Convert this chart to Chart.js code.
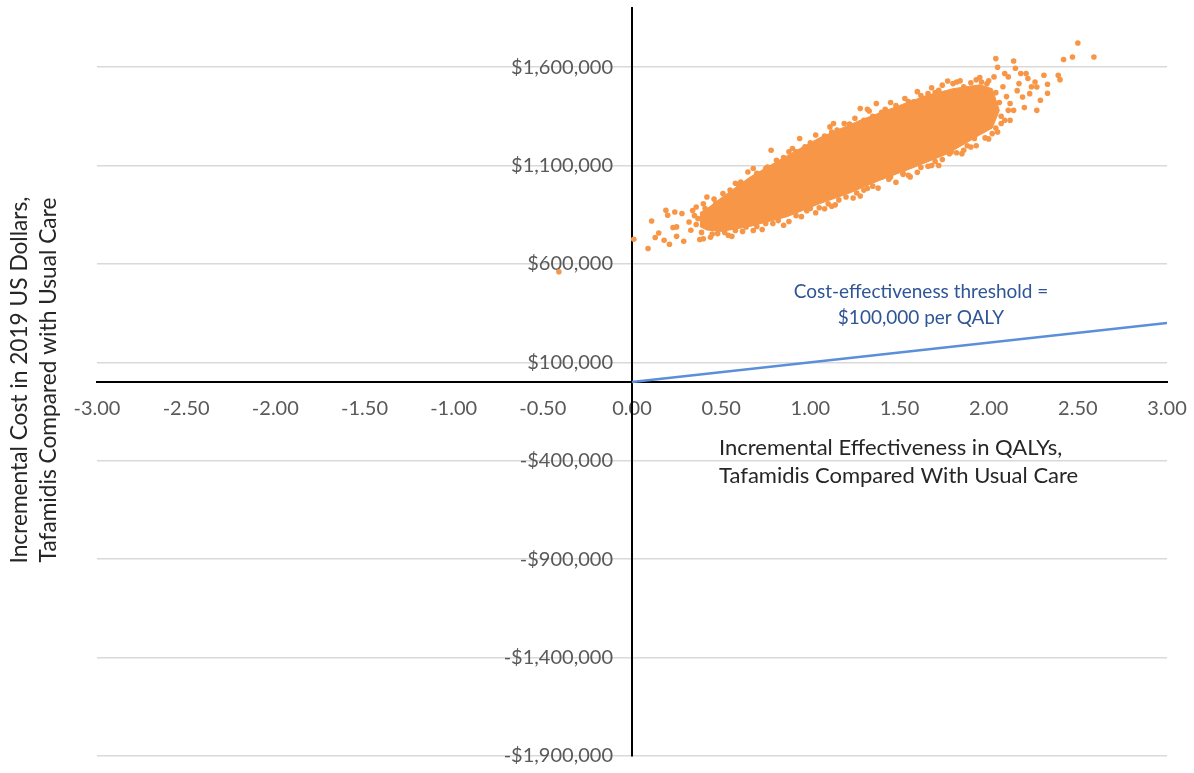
<!DOCTYPE html>
<html>
<head>
<meta charset="utf-8">
<script src="https://cdn.jsdelivr.net/npm/chart.js@4.4.1/dist/chart.umd.min.js"></script>
<style>
  html, body { margin: 0; padding: 0; background: #ffffff; }
  canvas { display: block; }
</style>
</head>
<body>
<canvas id="plane" width="1194" height="773"></canvas>
<script>
// ---- Cost-effectiveness plane: tafamidis vs usual care (PSA iterations) ----

// Axis ticks
const xTickValues = [-3, -2.5, -2, -1.5, -1, -0.5, 0, 0.5, 1, 1.5, 2, 2.5, 3];
const yTickValues = [-1900000, -1400000, -900000, -400000, 100000, 600000, 1100000, 1600000];

// Willingness-to-pay line: $100,000 per QALY gained [QALYs, cost]
const thresholdLine = [[0, 0], [3, 300000]];

// Outline of the densest part of the PSA cloud, where iterations overlap solidly
const denseUpper = [
  [0.38, 860000], [0.42, 880000], [0.50, 935000], [0.66, 1040000], [0.87, 1150000],
  [1.05, 1240000], [1.28, 1330000], [1.50, 1405000], [1.65, 1455000], [1.80, 1490000],
  [1.95, 1510000], [2.02, 1490000], [2.06, 1380000]
];
const denseLower = [
  [0.38, 790000], [0.42, 772000], [0.50, 765000], [0.66, 790000], [0.87, 840000],
  [1.05, 905000], [1.22, 960000], [1.39, 1025000], [1.58, 1090000], [1.77, 1160000],
  [1.95, 1255000], [2.02, 1290000], [2.06, 1380000]
];

// Individual PSA iterations around and outside the dense core [QALYs, cost]
const psaIterations = [
  [-0.41, 560000],
  [0.01, 725000], [0.09, 678000], [0.11, 818000], [0.13, 734000], [0.15, 757000],
  [0.18, 720000], [0.19, 872000], [0.21, 700000], [0.20, 847000], [0.23, 785000],
  [0.24, 864000], [0.25, 788000], [0.25, 740000], [0.29, 715000], [0.28, 856000],
  [0.32, 813000], [0.33, 771000], [0.34, 871000], [0.36, 889000], [0.37, 830000],
  [0.38, 724000], [0.40, 728000], [0.41, 881000], [0.42, 940000], [0.47, 909000],
  [0.48, 754000], [0.51, 957000], [0.56, 740000], [0.61, 1016000], [0.65, 1067000],
  [0.76, 1092000], [0.78, 1177000], [0.81, 1126000], [0.90, 1186000], [0.94, 1237000],
  [1.11, 1296000], [1.13, 1313000], [1.19, 1313000], [1.28, 1389000], [1.32, 1386000],
  [1.33, 1377000], [1.37, 1415000], [1.58, 1423000], [1.62, 1431000], [1.66, 1465000],
  [1.74, 1508000], [1.77, 1529000], [1.80, 1516000], [1.82, 1524000], [1.95, 1547000],
  [1.96, 1524000], [2.03, 1550000], [2.04, 1643000], [2.05, 1599000], [2.09, 1567000],
  [2.11, 1550000], [2.14, 1631000], [2.15, 1594000], [2.17, 1516000], [2.18, 1567000],
  [2.21, 1567000], [2.22, 1542000], [2.26, 1524000], [2.27, 1499000], [2.23, 1465000],
  [2.19, 1448000], [2.20, 1394000], [2.14, 1380000], [2.12, 1330000], [2.07, 1313000],
  [2.02, 1262000], [1.92, 1237000], [1.90, 1194000], [1.86, 1177000], [1.79, 1169000],
  [1.78, 1160000], [1.66, 1096000], [1.56, 1042000], [1.52, 1055000], [1.45, 1042000],
  [1.40, 1042000], [2.27, 1380000], [2.29, 1431000], [2.31, 1558000], [2.33, 1513000],
  [2.33, 1467000], [2.39, 1558000], [2.40, 1536000], [2.42, 1638000], [2.47, 1651000],
  [2.50, 1722000], [2.59, 1651000],
  [0.64, 788000], [0.79, 805000], [0.85, 796000], [0.96, 889000], [1.00, 881000],
  [1.12, 893000], [1.20, 940000], [1.32, 983000],
  // upper fringe of the core
  [0.55, 975000], [0.60, 1000000], [0.70, 1060000], [0.75, 1085000], [0.85, 1140000],
  [0.92, 1170000], [1.00, 1215000], [1.08, 1250000], [1.15, 1280000], [1.22, 1310000],
  [1.35, 1350000], [1.42, 1385000], [1.48, 1405000], [1.55, 1425000], [1.62, 1455000],
  [1.70, 1470000], [1.86, 1500000], [1.90, 1520000], [1.99, 1515000],
  [0.46, 930000], [0.58, 1010000], [0.68, 1085000], [0.72, 1050000], [0.88, 1170000],
  [0.97, 1195000], [1.03, 1255000], [1.12, 1270000], [1.25, 1340000], [1.30, 1330000],
  [1.40, 1370000], [1.45, 1420000], [1.53, 1440000], [1.60, 1475000], [1.68, 1495000],
  [1.72, 1482000], [1.84, 1530000], [1.93, 1535000], [2.00, 1530000], [2.08, 1500000],
  [2.10, 1450000], [2.12, 1415000], [2.16, 1480000], [2.24, 1500000],
  // lower fringe of the core
  [0.45, 752000], [0.52, 760000], [0.58, 770000], [0.70, 790000], [0.75, 805000],
  [0.82, 820000], [0.92, 845000], [0.98, 870000], [1.05, 885000], [1.10, 905000],
  [1.16, 925000], [1.26, 960000], [1.30, 975000], [1.35, 995000], [1.44, 1030000],
  [1.52, 1060000], [1.62, 1090000], [1.70, 1120000], [1.74, 1130000], [1.82, 1165000],
  [1.88, 1200000], [1.98, 1240000], [2.04, 1290000], [2.07, 1350000], [2.06, 1420000],
  [2.04, 1470000],
  [0.44, 735000], [0.54, 745000], [0.62, 765000], [0.68, 770000], [0.73, 775000],
  [0.88, 815000], [0.95, 840000], [1.03, 860000], [1.08, 880000], [1.14, 900000],
  [1.24, 935000], [1.28, 945000], [1.38, 985000], [1.48, 1015000], [1.55, 1050000],
  [1.60, 1065000], [1.68, 1100000], [1.72, 1100000], [1.85, 1160000], [1.93, 1200000],
  [2.00, 1235000], [2.05, 1270000], [2.09, 1330000], [2.11, 1380000],
  // blunt left end of the core
  [0.36, 800000], [0.35, 845000], [0.39, 760000], [0.40, 905000]
];

// Text
const xTitleLines = ['Incremental Effectiveness in QALYs,', 'Tafamidis Compared With Usual Care'];
const yTitleLines = ['Incremental Cost in 2019 US Dollars,', 'Tafamidis Compared with Usual Care'];
const thresholdLabel = ['Cost-effectiveness threshold =', '$100,000 per QALY'];

const ORANGE = '#F79646';
const toXY = pairs => pairs.map(([x, y]) => ({ x, y }));
const tickFont = { family: 'Lato', size: 20 };
const tickColor = '#595959';

function dollars(v) {
  const s = '$' + Math.abs(v).toLocaleString('en-US');
  return v < 0 ? '-' + s : s;
}

// Cost tick labels sit just left of the vertical axis (which crosses at 0 QALYs)
const costLabels = {
  id: 'costLabels',
  beforeDatasetsDraw(chart) {
    const ctx = chart.ctx;
    const axisX = chart.scales.x.getPixelForValue(0);
    const ys = chart.scales.y;
    ctx.save();
    ctx.font = '20px Lato';
    ctx.fillStyle = tickColor;
    ctx.textAlign = 'right';
    ctx.textBaseline = 'middle';
    yTickValues.forEach(v => ctx.fillText(dollars(v), axisX - 19, ys.getPixelForValue(v)));
    ctx.restore();
  }
};

const annotations = {
  id: 'planeText',
  afterDraw(chart) {
    const ctx = chart.ctx;
    ctx.save();
    ctx.textBaseline = 'alphabetic';

    // x-axis title, left aligned under the positive quadrant
    ctx.fillStyle = '#262626';
    ctx.font = '22px Lato';
    ctx.textAlign = 'left';
    xTitleLines.forEach((t, i) => ctx.fillText(t, 719, 455 + i * 27.5));

    // y-axis title, rotated along the left edge
    ctx.font = '22.7px Lato';
    ctx.textAlign = 'center';
    yTitleLines.forEach((t, i) => {
      ctx.save();
      ctx.translate(27 + i * 28.5, 380);
      ctx.rotate(-Math.PI / 2);
      ctx.fillText(t, 0, 0);
      ctx.restore();
    });

    // threshold label
    ctx.fillStyle = '#2F5597';
    ctx.font = '19px Lato';
    thresholdLabel.forEach((t, i) => ctx.fillText(t, 921, 298 + i * 25.5));
    ctx.restore();
  }
};

new Chart(document.getElementById('plane'), {
  type: 'scatter',
  data: {
    datasets: [
      {
        type: 'line',
        data: toXY(thresholdLine),
        borderColor: '#5B8FD9',
        borderWidth: 2.5,
        pointRadius: 0,
        tension: 0,
        fill: false
      },
      {
        type: 'line',
        data: toXY(denseUpper),
        borderColor: ORANGE,
        borderWidth: 1,
        backgroundColor: ORANGE,
        pointRadius: 0,
        tension: 0,
        fill: '+1'
      },
      {
        type: 'line',
        data: toXY(denseLower),
        borderColor: ORANGE,
        borderWidth: 1,
        backgroundColor: ORANGE,
        pointRadius: 0,
        tension: 0,
        fill: false
      },
      {
        data: toXY(psaIterations),
        backgroundColor: ORANGE,
        borderWidth: 0,
        pointRadius: 2.8,
        pointHoverRadius: 2.8
      }
    ]
  },
  options: {
    responsive: false,
    devicePixelRatio: 1,
    animation: false,
    events: [],
    layout: { padding: { left: 97, right: 27, top: 8, bottom: 17 } },
    plugins: { legend: { display: false }, tooltip: { enabled: false } },
    scales: {
      x: {
        type: 'linear',
        min: -3,
        max: 3,
        position: { y: 0 },
        afterBuildTicks: a => { a.ticks = xTickValues.map(value => ({ value })); },
        afterFit: a => { a.paddingLeft = 0; a.paddingRight = 0; },
        grid: { display: false, drawTicks: false },
        border: { display: true, color: '#000000', width: 2 },
        ticks: {
          font: tickFont,
          color: tickColor,
          padding: 15,
          maxRotation: 0,
          autoSkip: false,
          callback: v => Number(v).toFixed(2)
        }
      },
      y: {
        type: 'linear',
        min: -1900000,
        max: 1900000,
        position: { x: 0 },
        afterBuildTicks: a => { a.ticks = yTickValues.map(value => ({ value })); },
        afterFit: a => { a.paddingTop = 0; a.paddingBottom = 0; },
        grid: { color: '#D9D9D9', lineWidth: 1.5, drawTicks: false },
        border: { display: true, color: '#000000', width: 2 },
        ticks: { display: false }
      }
    }
  },
  plugins: [costLabels, annotations]
});
</script>
</body>
</html>
